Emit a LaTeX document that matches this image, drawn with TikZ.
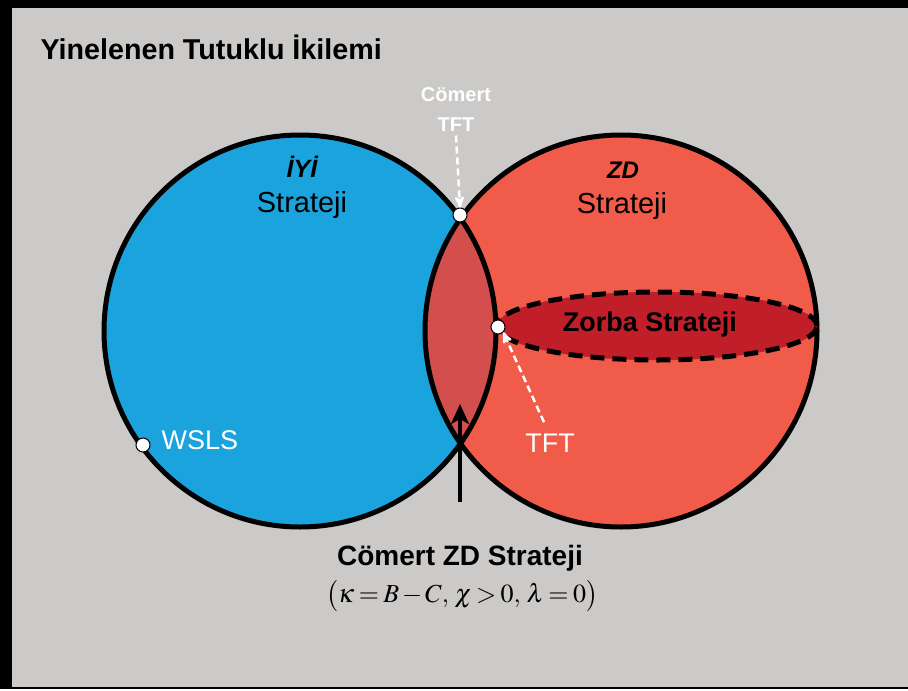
\documentclass[tikz,border=0pt]{standalone}
\usepackage{mathptmx}
\usepackage[no-math]{fontspec}
\setmainfont{Liberation Sans}
\usepackage{tikz}
\usetikzlibrary{arrows,arrows.meta,positioning}

\definecolor{bggray}{HTML}{CCCAC8}
\definecolor{iyiblue}{HTML}{1AA3DC}
\definecolor{zdred}{HTML}{F15B4A}
\definecolor{lensred}{HTML}{D24F4D}
\definecolor{zorbared}{HTML}{C01F2A}

\begin{document}
\begin{tikzpicture}[x=1pt,y=-1pt,
	dot/.style={circle,draw=black,fill=white,line width=1pt,inner sep=0pt,minimum size=14pt},
	rim/.style={line width=5pt},
	wlabel/.style={text=white,font=\fontsize{27}{29}\selectfont},
	blabel/.style={text=black,font=\fontsize{29}{31}\selectfont},
	hint/.style={->,>=stealth',white,line width=2.5pt,dash pattern=on 7pt off 4pt}]
\useasboundingbox (0,0) rectangle (908,691);
\fill[black] (0,0) rectangle (908,689);
\fill[bggray] (12,8) rectangle (908,687);

% circles
\coordinate (lc) at (300,331);
\coordinate (rc) at (621,331);
\fill[iyiblue] (lc) circle (196pt);
\fill[zdred] (rc) circle (196pt);
\begin{scope}
	\clip (lc) circle (196pt);
	\fill[lensred] (rc) circle (196pt);
\end{scope}
\draw[rim] (lc) circle (196pt);
\draw[rim] (rc) circle (196pt);
\draw[zorbared,fill=zorbared] (657,326) ellipse (160pt and 34pt);
\draw[line width=5pt,dash pattern=on 14pt off 8pt] (657,326) ellipse (160pt and 34pt);

\node[anchor=west,font=\bfseries\fontsize{28.7}{30}\selectfont] (title) at (37,47) {Yinelenen Tutuklu İkilemi};

\node[blabel,font=\bfseries\itshape\fontsize{25}{27}\selectfont] (iyi) at (302,167) {İYİ};
\node[blabel] (iyistr) at (302,205) {Strateji};
\node[blabel,font=\bfseries\itshape\fontsize{24}{26}\selectfont] (zd) at (623,170) {ZD};
\node[blabel] (zdstr) at (622,206) {Strateji};
\node[font=\bfseries\fontsize{27}{29}\selectfont] (zorba) at (650,325) {Zorba Strateji};

\node[dot] (ctftdot) at (460,215) {};
\node[dot] (tftdot) at (498,327) {};
\node[dot] (wslsdot) at (143,445) {};

\node[text=white,align=center,font=\bfseries\fontsize{20}{30}\selectfont] (ctft) at (456,110) {Cömert\\TFT};
\node[wlabel] (tft) at (550,443) {TFT};
\node[wlabel,anchor=west] (wsls) at (158,440) {WSLS};

\draw[hint] (ctft.south) -- (ctftdot.north);
\draw[hint] (tft.north) ++(-6,-8) coordinate (tftfoot) -- (tftdot.south east);

\coordinate (arrfoot) at (460,502);
\coordinate (arrtip) at (460,404);
\draw[-{Stealth[length=20pt,width=18pt,inset=5pt]},line width=4.5pt] (arrfoot) -- (arrtip);

\node[font=\bfseries\fontsize{28}{30}\selectfont] (czd) at (460,558) {Cömert ZD Strateji};
\node[font=\fontsize{26}{28}\selectfont] (formula) at (462,596)
	{$\thickmuskip=3mu\medmuskip=2mu\bigl(\kappa = B - C,\, \chi > 0,\, \lambda = 0\bigr)$};

\end{tikzpicture}
\end{document}
